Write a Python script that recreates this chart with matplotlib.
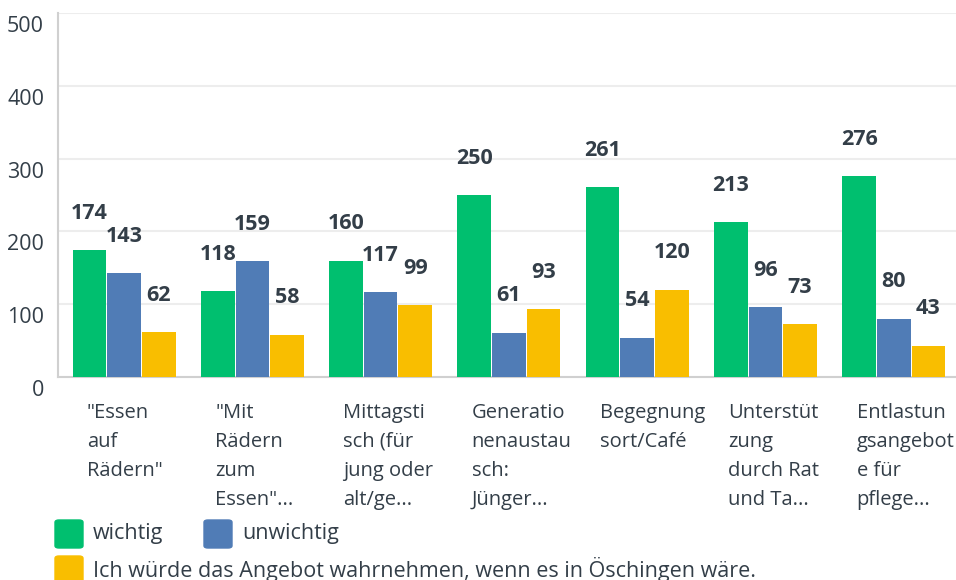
import numpy as np
import matplotlib.pyplot as plt
from matplotlib.patches import FancyBboxPatch
import matplotlib.transforms as mtransforms

plt.rcParams['font.family'] = ['Open Sans', 'DejaVu Sans']

# Daten
kategorien = ['"Essen\nauf\nRädern"',
              '"Mit\nRädern\nzum\nEssen"...',
              'Mittagsti\nsch (für\njung oder\nalt/ge...',
              'Generatio\nnenaustau\nsch:\nJünger...',
              'Begegnung\nsort/Café',
              'Unterstüt\nzung\ndurch Rat\nund Ta...',
              'Entlastun\ngsangebot\ne für\npflege...']
wichtig = [174, 118, 160, 250, 261, 213, 276]
unwichtig = [143, 159, 117, 61, 54, 96, 80]
wahrnehmen = [62, 58, 99, 93, 120, 73, 43]
serien_namen = ['wichtig', 'unwichtig',
                'Ich würde das Angebot wahrnehmen, wenn es in Öschingen wäre.']
y_ticks = [0, 100, 200, 300, 400, 500]

farben = ['#00BF6F', '#507CB6', '#F9BE00']
text_col = '#333E48'
fs = 15.5

fig = plt.figure(figsize=(9.56, 5.8), dpi=100)
ax = fig.add_axes([58 / 956, 1 - 377 / 580, 1 - 58 / 956, (377 - 13) / 580])

x = np.arange(len(kategorien))
bw = 0.262
for k, (vals, col) in enumerate(zip([wichtig, unwichtig, wahrnehmen], farben)):
    pos = x + (k - 1) * (bw + 0.008) + 0.015
    ax.bar(pos, vals, width=bw, color=col, zorder=3)
    for xp, v in zip(pos, vals):
        ax.annotate(str(v), (xp, v), xytext=(0, 26.5), textcoords='offset points',
                    ha='center', va='center', fontsize=fs, fontweight='bold',
                    color=text_col)

ax.set_xlim(-0.5, len(kategorien) - 0.5)
ax.set_ylim(0, 500)
ax.set_yticks(y_ticks)
ax.set_yticklabels([str(t) for t in y_ticks])
ax.tick_params(axis='y', length=0, pad=10, labelsize=fs, labelcolor=text_col)
ax.tick_params(axis='x', length=0, labelbottom=False)
off = mtransforms.ScaledTranslation(0, -11 / 100, fig.dpi_scale_trans)
for lab in ax.get_yticklabels():
    lab.set_transform(lab.get_transform() + off)

ax.grid(axis='y', color='#EDEDED', linewidth=1.5, zorder=0)
for s in ['top', 'right']:
    ax.spines[s].set_visible(False)
ax.spines['left'].set_color('#D0D0D0')
ax.spines['left'].set_linewidth(1.5)
ax.spines['bottom'].set_color('#D0D0D0')
ax.spines['bottom'].set_linewidth(1.5)

# Kategorien unter den Balken
trans = mtransforms.blended_transform_factory(ax.transData, ax.transAxes)
for i, kat in enumerate(kategorien):
    ax.text(i - 0.275, -26 / 364, kat, transform=trans, ha='left', va='top',
            fontsize=14.5, color=text_col, linespacing=1.6)

# Legende
def leg_item(xp, yp, col, label):
    fig.patches.append(FancyBboxPatch((xp / 956, 1 - (yp + 14) / 580), 28 / 956, 28 / 580,
                                      boxstyle='round,pad=0,rounding_size=0.004',
                                      transform=fig.transFigure, color=col))
    fig.text((xp + 38) / 956, 1 - yp / 580, label, ha='left', va='center',
             fontsize=fs, color=text_col)

leg_item(55, 534, farben[0], serien_namen[0])
leg_item(204, 534, farben[1], serien_namen[1])
leg_item(55, 570, farben[2], serien_namen[2])

fig.savefig('out.png', dpi=100)
